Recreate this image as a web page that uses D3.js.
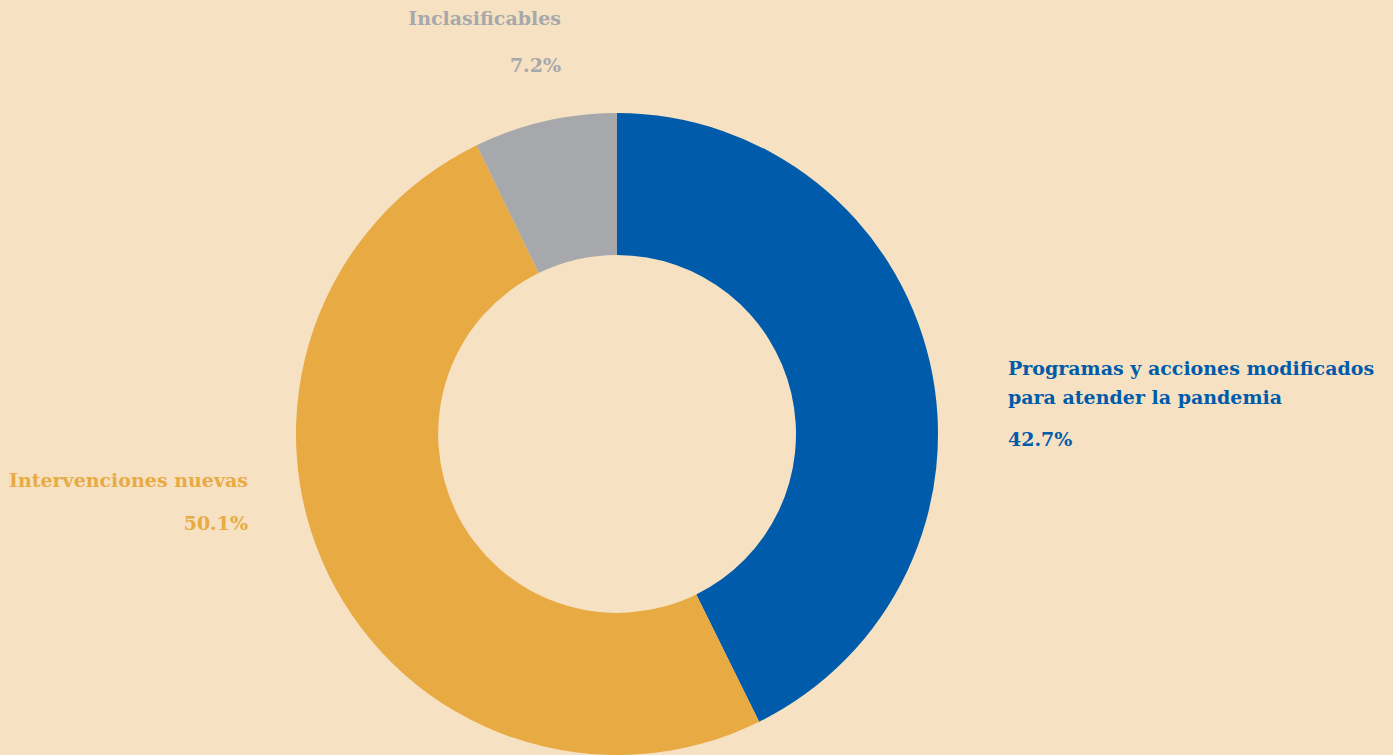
<!DOCTYPE html>
<html>
<head>
<meta charset="utf-8">
<script src="https://cdn.jsdelivr.net/npm/d3@7"></script>
<style>
  html, body { margin: 0; padding: 0; background: #f6e1c2; }
  text { font-family: "DejaVu Serif", serif; font-weight: bold; }
</style>
</head>
<body>
<div id="chart"></div>
<script>
// data
var categories = ["Programas y acciones modificados para atender la pandemia", "Intervenciones nuevas", "Inclasificables"];
var values = [42.7, 50.1, 7.2];
var colors = ["#005baa", "#e8ab44", "#a7a8ab"];

function main() {
    var width = 1393, height = 755;
    var cx = 617, cy = 434,
    outerR = 321, innerR = 179;

    var svg = d3.select("#chart")
    .append("svg")
    .attr("width", width)
    .attr("height", height);

    var g = svg.append("g")
    .attr("transform", "translate(" + cx + "," + cy + ")");

    var pie = d3.pie().sort(null).value(d => d);
    var arc = d3.arc().innerRadius(innerR).outerRadius(outerR);

    g.selectAll(".slice")
    .data(pie(values))
    .enter().append("path")
    .attr("class", "slice")
    .attr("d", arc)
    .attr("fill", (d, i) => colors[i]);

    // labels: manual placement like the original
    var labels = [
        { lines: ["Programas y acciones modificados", "para atender la pandemia"], x: 1008, y: 375, anchor: "start", py: 446 },
        { lines: ["Intervenciones nuevas"], x: 248, y: 487, anchor: "end", py: 530 },
        { lines: ["Inclasificables"], x: 561, y: 25, anchor: "end", py: 72 }
    ];

    labels.forEach(function(l, i) {
        var t = svg.append("text")
        .attr("x", l.x)
        .attr("y", l.y)
        .attr("text-anchor", l.anchor)
        .attr("fill", colors[i])
        .style("font-size", "19px");
        l.lines.forEach(function(s, j) {
            t.append("tspan").attr("x", l.x).attr("dy", j == 0 ? 0 : 29).text(s);
        });
        svg.append("text")
        .attr("x", l.x)
        .attr("y", l.py)
        .attr("text-anchor", l.anchor)
        .attr("fill", colors[i])
        .style("font-size", "19px")
        .text(d3.format(".1f")(values[i]) + "%");
    });
}
main();
</script>
</body>
</html>
